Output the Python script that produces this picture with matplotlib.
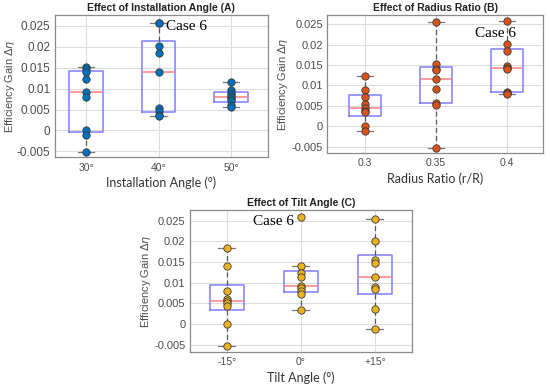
import numpy as np
import matplotlib
matplotlib.use("Agg")
import matplotlib.pyplot as plt

# ---------------- data ----------------
angle_labels = ["30°", "40°", "50°"]
angle_30 = [0.0153, 0.0147, 0.0140, 0.0124, 0.0093, 0.0080, 0.0000, -0.0012, -0.0052]
angle_40 = [0.0258, 0.0256, 0.0201, 0.0185, 0.0140, 0.0053, 0.0047, 0.0038, 0.0035]
angle_50 = [0.0115, 0.0097, 0.0090, 0.0085, 0.0080, 0.0076, 0.0071, 0.0060, 0.0055]

ratio_labels = ["0.3", "0.35", "0.4"]
ratio_030 = [0.0124, 0.0090, 0.0072, 0.0055, 0.0045, 0.0038, 0.0035, 0.0000, -0.0012]
ratio_035 = [0.0255, 0.0153, 0.0141, 0.0138, 0.0115, 0.0092, 0.0058, 0.0052, -0.0052]
ratio_040 = [0.0258, 0.0201, 0.0185, 0.0147, 0.0142, 0.0140, 0.0085, 0.0082, 0.0080]

tilt_labels = ["-15°", "0°", "+15°"]
tilt_m15 = [0.0185, 0.0140, 0.0080, 0.0060, 0.0055, 0.0050, 0.0045, 0.0000, -0.0052]
tilt_0 = [0.0258, 0.0140, 0.0124, 0.0115, 0.0092, 0.0088, 0.0080, 0.0072, 0.0035]
tilt_p15 = [0.0255, 0.0201, 0.0155, 0.0147, 0.0115, 0.0090, 0.0085, 0.0036, -0.0012]

yticks = [-0.005, 0, 0.005, 0.01, 0.015, 0.02, 0.025]
ytick_labels = ["-0.005", "0", "0.005", "0.01", "0.015", "0.02", "0.025"]

SANS = ["Liberation Sans", "DejaVu Sans"]


def stats(d):
    d = np.asarray(d, dtype=float)
    q1, med, q3 = np.percentile(d, [25, 50, 75], method="hazen")
    iqr = q3 - q1
    lo = d[d >= q1 - 1.5 * iqr].min()
    hi = d[d <= q3 + 1.5 * iqr].max()
    return dict(med=med, q1=q1, q3=q3, whislo=lo, whishi=hi, fliers=[])


def panel(ax, groups, labels, color, title, xlabel, xlim, ylim, case_xy,
          ytick_size=8, ypad=3, ylabelpad=1):
    st = [stats(g) for g in groups]
    ax.grid(True, color="#dcdcdc", linewidth=0.8, zorder=0)
    ax.set_axisbelow(True)
    ax.bxp(st, positions=[1, 2, 3], widths=0.46, showfliers=False,
           boxprops=dict(color="#7f7fff", linewidth=1.1),
           medianprops=dict(color="#ff7f7f", linewidth=1.1),
           whiskerprops=dict(color="#555555", linewidth=0.9, linestyle=(0, (4, 2.5))),
           capprops=dict(color="#777777", linewidth=0.9),
           capwidths=0.23, manage_ticks=False)
    for i, g in enumerate(groups):
        ax.scatter(np.full(len(g), i + 1), g, s=28, color=color,
                   edgecolors="#3a3a3a", linewidths=0.6, zorder=5)
    ax.set_xlim(*xlim)
    ax.set_ylim(*ylim)
    ax.set_xticks([1, 2, 3])
    ax.set_xticklabels(labels, family=SANS, fontsize=7.5, color="#4d4d4d")
    ax.set_yticks(yticks)
    ax.set_yticklabels(ytick_labels, family=SANS, fontsize=ytick_size, color="#4d4d4d")
    ax.tick_params(axis="x", length=0, pad=4)
    ax.tick_params(axis="y", length=0, pad=ypad)
    for s in ax.spines.values():
        s.set_color("#8a8a8a")
        s.set_linewidth(0.9)
    ax.set_title(title, family=SANS, fontsize=7.5, fontweight="bold", color="#222222", pad=3)
    ax.set_xlabel(xlabel, family=["Lato", "DejaVu Sans"], fontsize=9, color="#333333", labelpad=3)
    ax.set_ylabel(r"Efficiency Gain $\Delta\eta$", family=SANS, fontsize=8, color="#4d4d4d",
                  labelpad=ylabelpad)
    ax.text(case_xy[0], case_xy[1], "Case 6", family=["Liberation Serif", "DejaVu Serif"],
            fontsize=11, color="black", ha="left", va="center", zorder=6)


fig = plt.figure(figsize=(5.5, 3.88), dpi=100)
fig.patch.set_facecolor("white")

axA = fig.add_axes([0.100, 0.595, 0.387, 0.366])
axB = fig.add_axes([0.595, 0.606, 0.393, 0.355])
axC = fig.add_axes([0.345, 0.093, 0.404, 0.366])

panel(axA, [angle_30, angle_40, angle_50], angle_labels, "#0072BD",
      "Effect of Installation Angle (A)", "Installation Angle (°)",
      (0.57, 3.51), (-0.0064, 0.0276), (2.11, 0.0248), ytick_size=8.5, ypad=3.5,
      ylabelpad=0)
panel(axB, [ratio_030, ratio_035, ratio_040], ratio_labels, "#D95319",
      "Effect of Radius Ratio (B)", "Radius Ratio (r/R)",
      (0.47, 3.51), (-0.0065, 0.0272), (2.55, 0.0228))
panel(axC, [tilt_m15, tilt_0, tilt_p15], tilt_labels, "#EDB120",
      "Effect of Tilt Angle (C)", "Tilt Angle (°)",
      (0.50, 3.50), (-0.0067, 0.0276), (1.36, 0.0248))

fig.savefig("out.png", dpi=100, facecolor="white")
